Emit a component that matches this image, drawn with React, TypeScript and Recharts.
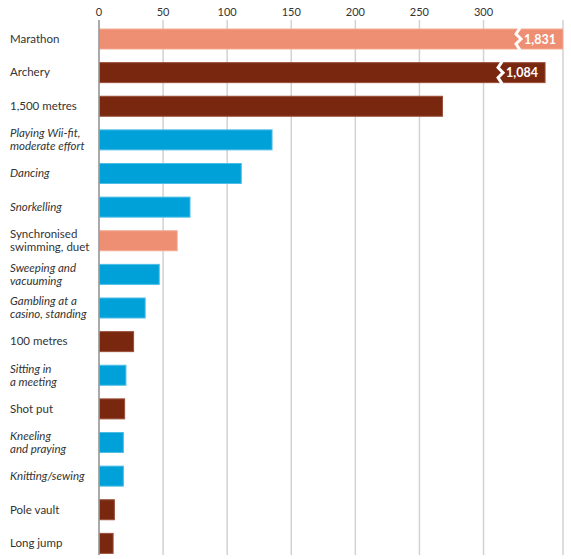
import React from "react";
import { BarChart, Bar, XAxis, YAxis, CartesianGrid } from "recharts";

const categories = [
  "Marathon",
  "Archery",
  "1,500 metres",
  "Playing Wii-fit,\nmoderate effort",
  "Dancing",
  "Snorkelling",
  "Synchronised\nswimming, duet",
  "Sweeping and\nvacuuming",
  "Gambling at a\ncasino, standing",
  "100 metres",
  "Sitting in\na meeting",
  "Shot put",
  "Kneeling\nand praying",
  "Knitting/sewing",
  "Pole vault",
  "Long jump",
];

// true values
const values = [1831, 1084, 268, 135, 111, 71, 61, 47, 36, 27, 21, 20, 19, 19, 12, 11];
// length drawn on the truncated axis (broken bars shown shorter)
const drawnValues = [362, 348, 268, 135, 111, 71, 61, 47, 36, 27, 21, 20, 19, 19, 12, 11];
const kinds = [
  "salmon", "brown", "brown", "blue", "blue", "blue", "salmon", "blue",
  "blue", "brown", "blue", "brown", "blue", "blue", "brown", "brown",
];
const brokenLabels = ["1,831", "1,084"];
const xTicks = [0, 50, 100, 150, 200, 250, 300];

const COLORS: Record<string, { fill: string; stroke: string }> = {
  salmon: { fill: "#EE8E72", stroke: "#F3AB95" },
  brown: { fill: "#7A2710", stroke: "#9A4F3A" },
  blue: { fill: "#00A1D9", stroke: "#4DBDE5" },
};

const rows = categories.map((name, i) => ({
  name,
  value: values[i],
  drawn: drawnValues[i],
  kind: kinds[i],
  broken: i < brokenLabels.length ? brokenLabels[i] : null,
}));

const YTick = (props: any) => {
  const { y, payload } = props;
  const idx = categories.indexOf(payload.value);
  const italic = kinds[idx] === "blue";
  const lines = String(payload.value).split("\n");
  const lh = 13;
  const first = ((1 - lines.length) / 2) * lh + 4;
  return (
    <text
      x={10}
      y={y}
      textAnchor="start"
      fill="#333"
      fontSize={11.5}
      fontStyle={italic ? "italic" : "normal"}
    >
      {lines.map((l, i) => (
        <tspan key={i} x={10} dy={i === 0 ? first : lh}>
          {l}
        </tspan>
      ))}
    </text>
  );
};

const BarShape = (props: any) => {
  const { x, y, width, height, payload } = props;
  const c = COLORS[payload.kind];
  const top = y;
  const bottom = y + height;
  const bx = x + width - 44;
  return (
    <g>
      <rect x={x} y={y} width={width} height={height} fill={c.fill} stroke={c.stroke} strokeWidth={1} />
      {payload.broken && (
        <>
          <polyline
            points={`${bx + 1},${top - 1} ${bx - 3},${top + 5} ${bx + 2},${top + 10} ${bx - 3},${top + 15} ${bx + 1},${bottom + 1}`}
            fill="none"
            stroke="#fff"
            strokeWidth={3}
          />
          <text
            x={x + width - 7}
            y={y + height / 2 + 4.5}
            textAnchor="end"
            fill="#fff"
            fontSize={12.5}
            fontWeight="bold"
          >
            {payload.broken}
          </text>
        </>
      )}
    </g>
  );
};

export default function App() {
  return (
    <div style={{ position: "absolute", left: 0, top: 0, fontFamily: "Lato, sans-serif", background: "#fff" }}>
      <BarChart
        width={571}
        height={561}
        data={rows}
        layout="vertical"
        margin={{ top: 0, right: 8, bottom: 6, left: 0 }}
      >
        <CartesianGrid horizontal={false} vertical stroke="#d2d2d2" strokeWidth={1.5} />
        <XAxis
          type="number"
          orientation="top"
          height={20}
          domain={[0, 362]}
          ticks={xTicks}
          allowDataOverflow
          axisLine={false}
          tickLine={false}
          tickSize={0}
          tickMargin={4}
          tick={{ fontSize: 11, fill: "#333" }}
        />
        <YAxis
          type="category"
          dataKey="name"
          width={99}
          interval={0}
          tick={<YTick />}
          tickLine={false}
          axisLine={{ stroke: "#999", strokeWidth: 1.5 }}
          padding={{ top: 2, bottom: -5 }}
        />
        <Bar dataKey="drawn" barSize={20} shape={<BarShape />} isAnimationActive={false} />
      </BarChart>
    </div>
  );
}
